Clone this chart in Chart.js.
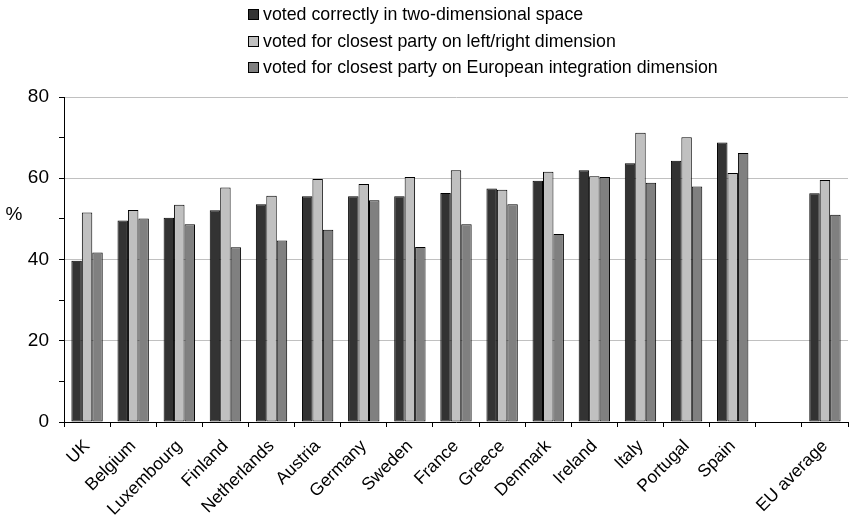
<!DOCTYPE html>
<html>
<head>
<meta charset="utf-8">
<script src="https://cdn.jsdelivr.net/npm/chart.js@4"></script>
<style>
  html, body { margin: 0; padding: 0; background: #fff; }
  #wrap { position: relative; width: 849px; height: 519px; }
  #legend { position: absolute; left: 248px; top: 0; font-family: "Liberation Sans", Arial, sans-serif; font-size: 17.8px; color: #000; }
  #legend div { height: 26.5px; line-height: 28px; white-space: nowrap; }
  #legend span { display: inline-block; width: 9px; height: 9px; border: 1px solid #000; margin-right: 4px; vertical-align: 0px; }
</style>
</head>
<body>
<div id="wrap">
  <canvas id="chart" width="849" height="519"></canvas>
  <div id="legend"></div>
</div>
<script>
const countries = ["UK", "Belgium", "Luxembourg", "Finland", "Netherlands", "Austria", "Germany", "Sweden",
    "France", "Greece", "Denmark", "Ireland", "Italy", "Portugal", "Spain", "", "EU average"];
const twoDim = [39.7, 49.6, 50.3, 52.1, 53.6, 55.6, 55.6, 55.6, 56.4, 57.5, 59.4, 62.0, 63.7, 64.3, 68.8, null, 56.3];
const leftRight = [51.6, 52.2, 53.5, 57.7, 55.7, 59.8, 58.6, 60.3, 62.0, 57.2, 61.6, 60.5, 71.2, 70.1, 61.3, null, 59.6];
const euIntegration = [41.7, 50.1, 48.7, 43.0, 44.7, 47.3, 54.6, 43.1, 48.7, 53.6, 46.3, 60.3, 58.9, 58.0, 66.2, null, 51.0];
const seriesNames = ["voted correctly in two-dimensional space",
    "voted for closest party on left/right dimension",
    "voted for closest party on European integration dimension"];
const seriesColors = ["#333333", "#c0c0c0", "#808080"];

//legend is plain html, one row per series
const legendDiv = document.getElementById("legend");
seriesNames.forEach((name, i) => {
    const row = document.createElement("div");
    row.innerHTML = `<span style="background:${seriesColors[i]}"></span>${name}`;
    legendDiv.appendChild(row);
});

const font = "'Liberation Sans', Arial, sans-serif";

//draws the horizontal % label left of the y axis
const percentLabel = {
    id: "percentLabel",
    afterDraw(chart) {
        const ctx = chart.ctx;
        const y = chart.scales.y.getPixelForValue(51);
        ctx.save();
        ctx.font = "19px " + font;
        ctx.fillStyle = "#000";
        ctx.textAlign = "center";
        ctx.textBaseline = "middle";
        ctx.fillText("%", 14, y);
        ctx.restore();
    },
};

new Chart(document.getElementById("chart").getContext("2d"), {
    type: "bar",
    data: {
        labels: countries,
        datasets: [twoDim, leftRight, euIntegration].map((values, i) => ({
            label: seriesNames[i],
            data: values,
            backgroundColor: seriesColors[i],
            borderColor: "#000",
            borderWidth: 1,
            borderSkipped: false,
            barPercentage: 1,
            categoryPercentage: 0.68,
        })),
    },
    options: {
        responsive: false,
        animation: false,
        layout: { padding: { top: 97, right: 1, left: 0, bottom: 0 } },
        plugins: {
            legend: { display: false },
            tooltip: { enabled: false },
        },
        scales: {
            x: {
                afterFit(scale) { scale.height = 97; },
                grid: { offset: true, drawOnChartArea: false, tickLength: 5, tickColor: "#000" },
                border: { color: "#000" },
                ticks: {
                    minRotation: 45,
                    maxRotation: 45,
                    autoSkip: false,
                    padding: 9,
                    color: "#000",
                    font: { family: font, size: 17.5 },
                },
            },
            y: {
                min: 0,
                max: 80,
                afterFit(scale) { scale.width = 64; },
                grid: {
                    color: (c) => (c.tick && c.tick.value % 20 === 0 && c.tick.value !== 0 ? "#c0c0c0" : "rgba(0,0,0,0)"),
                    tickColor: "#000",
                    tickLength: 5,
                    lineWidth: 1,
                },
                border: { color: "#000" },
                ticks: {
                    stepSize: 10,
                    padding: 10,
                    color: "#000",
                    font: { family: font, size: 19 },
                    callback: (v) => (v % 20 === 0 ? v : ""),
                },
            },
        },
    },
    plugins: [percentLabel],
});
</script>
</body>
</html>
